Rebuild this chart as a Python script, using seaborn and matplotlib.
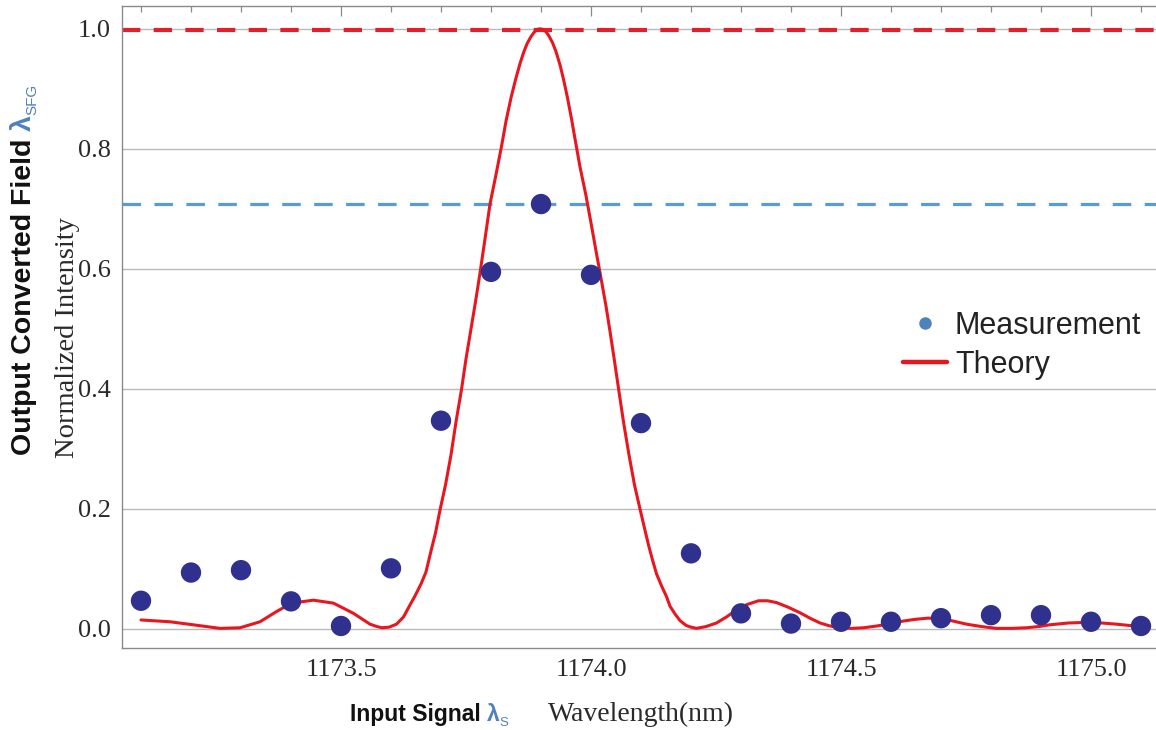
import matplotlib
matplotlib.use("Agg")
import matplotlib.pyplot as plt
from matplotlib.lines import Line2D
from matplotlib.ticker import MultipleLocator, FixedLocator
import seaborn as sns
import pandas as pd

# ---------------- data ----------------
meas_wavelength = [1173.1, 1173.2, 1173.3, 1173.4, 1173.5, 1173.6, 1173.7,
                   1173.8, 1173.9, 1174.0, 1174.1, 1174.2, 1174.3, 1174.4,
                   1174.5, 1174.6, 1174.7, 1174.8, 1174.9, 1175.0, 1175.1]
meas_intensity = [0.047, 0.094, 0.098, 0.046, 0.005, 0.101, 0.347,
                  0.595, 0.708, 0.590, 0.343, 0.126, 0.026, 0.009,
                  0.012, 0.012, 0.018, 0.023, 0.023, 0.012, 0.005]

theory_wavelength = [1173.100, 1173.158, 1173.204, 1173.258, 1173.298, 1173.338,
                     1173.371, 1173.401, 1173.445, 1173.485, 1173.525, 1173.558,
                     1173.572, 1173.582, 1173.596, 1173.611, 1173.625, 1173.638,
                     1173.648, 1173.660, 1173.670, 1173.680, 1173.689, 1173.698,
                     1173.709, 1173.720, 1173.730, 1173.741, 1173.750, 1173.760,
                     1173.769, 1173.778, 1173.788, 1173.798, 1173.810, 1173.821,
                     1173.830, 1173.840, 1173.849, 1173.858, 1173.865, 1173.872,
                     1173.880, 1173.886, 1173.892, 1173.898, 1173.904, 1173.910,
                     1173.916, 1173.923, 1173.930, 1173.938, 1173.945, 1173.953,
                     1173.961, 1173.969, 1173.978, 1173.990, 1174.001, 1174.010,
                     1174.021, 1174.030, 1174.038, 1174.046, 1174.055, 1174.065,
                     1174.076, 1174.087, 1174.098, 1174.107, 1174.115, 1174.123,
                     1174.131, 1174.141, 1174.151, 1174.158, 1174.168, 1174.178,
                     1174.190, 1174.200, 1174.211, 1174.230, 1174.251, 1174.271,
                     1174.291, 1174.313, 1174.335, 1174.353, 1174.371, 1174.395,
                     1174.418, 1174.438, 1174.458, 1174.478, 1174.498, 1174.522,
                     1174.545, 1174.572, 1174.598, 1174.623, 1174.648, 1174.673,
                     1174.698, 1174.725, 1174.751, 1174.781, 1174.811, 1174.841,
                     1174.871, 1174.895, 1174.918, 1174.955, 1174.991, 1175.021,
                     1175.051, 1175.075, 1175.098]
theory_intensity = [0.015, 0.012, 0.007, 0.001, 0.002, 0.012,
                    0.029, 0.043, 0.048, 0.043, 0.026, 0.008,
                    0.004, 0.002, 0.003, 0.008, 0.020, 0.040,
                    0.055, 0.075, 0.095, 0.130, 0.160, 0.198,
                    0.240, 0.290, 0.345, 0.399, 0.450, 0.500,
                    0.545, 0.593, 0.650, 0.708, 0.757, 0.804,
                    0.846, 0.885, 0.915, 0.942, 0.960, 0.975,
                    0.987, 0.994, 0.999, 1.000, 0.999, 0.995,
                    0.988, 0.977, 0.962, 0.940, 0.916, 0.885,
                    0.850, 0.812, 0.770, 0.722, 0.672, 0.630,
                    0.580, 0.538, 0.496, 0.452, 0.401, 0.345,
                    0.290, 0.240, 0.200, 0.168, 0.140, 0.115,
                    0.092, 0.072, 0.054, 0.038, 0.025, 0.014,
                    0.006, 0.003, 0.001, 0.004, 0.010, 0.020,
                    0.032, 0.041, 0.047, 0.047, 0.044, 0.036,
                    0.027, 0.018, 0.010, 0.005, 0.002, 0.001,
                    0.002, 0.005, 0.009, 0.013, 0.016, 0.018,
                    0.018, 0.013, 0.008, 0.004, 0.001, 0.001,
                    0.002, 0.004, 0.007, 0.010, 0.011, 0.010,
                    0.008, 0.006, 0.004]

peak_level = 0.998      # red dashed reference line
measured_max = 0.708    # blue dashed reference line

x_tick_values = [1173.5, 1174.0, 1174.5, 1175.0]
x_tick_labels = ["1173.5", "1174.0", "1174.5", "1175.0"]
y_tick_values = [0.0, 0.2, 0.4, 0.6, 0.8, 1.0]
y_tick_labels = ["0.0", "0.2", "0.4", "0.6", "0.8", "1.0"]

legend_labels = ["Measurement", "Theory"]

# ---------------- style ----------------
W, H = 1156, 730
sns.set_style("white")
plt.rcParams["font.family"] = ["Liberation Serif", "DejaVu Serif"]

fig = plt.figure(figsize=(W / 100, H / 100), dpi=100)
fig.patch.set_facecolor("white")
ax = fig.add_axes([122 / W, 1 - 648 / H, (1158 - 122) / W, (648 - 6) / H])

meas_df = pd.DataFrame({"wavelength": meas_wavelength, "intensity": meas_intensity})
theory_df = pd.DataFrame({"wavelength": theory_wavelength, "intensity": theory_intensity})

# grid
ax.set_axisbelow(True)
ax.yaxis.grid(True, color="#b9b9b9", lw=1.0)
ax.xaxis.grid(False)

# reference dashed lines
ax.axhline(peak_level, color="#e2202b", lw=3.0, dashes=(4.4, 3.2), zorder=2)
ax.axhline(measured_max, color="#5b9bd5", lw=2.3, dashes=(5.8, 4.2), zorder=2)

# theory curve
sns.lineplot(data=theory_df, x="wavelength", y="intensity", sort=False,
             color="#e8161e", lw=2.2, ax=ax, zorder=3, legend=False)
# measurement points
sns.scatterplot(data=meas_df, x="wavelength", y="intensity", s=215,
                color="#30318f", edgecolor="none", linewidth=0, ax=ax,
                zorder=4, legend=False)

ax.set_xlim(1173.062, 1175.134)
ax.set_ylim(-0.0317, 1.038)
ax.set_xlabel("")
ax.set_ylabel("")

ax.xaxis.set_major_locator(FixedLocator(x_tick_values))
ax.set_xticklabels(x_tick_labels)
ax.xaxis.set_minor_locator(MultipleLocator(0.1))
ax.yaxis.set_major_locator(FixedLocator(y_tick_values))
ax.set_yticklabels(y_tick_labels)
ax.yaxis.set_minor_locator(MultipleLocator(0.05))

ax.tick_params(which="both", direction="in", top=True, right=False,
               color="#8a8a8a", width=0.9)
ax.tick_params(which="major", length=7)
ax.tick_params(which="minor", length=4)
ax.tick_params(axis="both", labelsize=19, labelcolor="#2a2a2a")
ax.tick_params(axis="y", pad=8)
ax.tick_params(axis="x", pad=8)
for lab in ax.get_xticklabels() + ax.get_yticklabels():
    lab.set_family("Liberation Serif")

for name, sp in ax.spines.items():
    sp.set_color("#8a8a8a")
    sp.set_linewidth(1.0)
ax.spines["right"].set_visible(False)

# legend
handles = [
    Line2D([], [], marker="o", linestyle="none", color="#4f81bd",
           markersize=9, markeredgewidth=0),
    Line2D([], [], color="#e8161e", lw=3.2),
]
leg = ax.legend(handles, legend_labels, loc="upper left",
                bbox_to_anchor=(903 / W, 1 - 311 / H),
                bbox_transform=fig.transFigure, frameon=False,
                prop={"family": "Liberation Sans", "size": 22},
                handlelength=1.45, handletextpad=0.25, labelspacing=0.3,
                borderpad=0, borderaxespad=0)
for t in leg.get_texts():
    t.set_color("#222222")

# ---------------- axis labels (mixed styles) ----------------
fig.canvas.draw()
renderer = fig.canvas.get_renderer()

blue = "#4f81bd"

# vertical label, first line
base_x = 31 / W
y0 = 1 - 455 / H
t1 = fig.text(base_x, y0, "Output Converted Field ", rotation=90,
              rotation_mode="anchor", ha="left", va="baseline",
              fontsize=20.5, fontweight="bold", family="Liberation Sans",
              color="#111111")
bb = t1.get_window_extent(renderer)
t2 = fig.text(base_x, bb.y1 / H, "λ", rotation=90, rotation_mode="anchor",
              ha="left", va="baseline", fontsize=20.5, fontweight="bold",
              family=["Liberation Sans", "DejaVu Sans"], color=blue)
bb2 = t2.get_window_extent(renderer)
fig.text(base_x + 5 / W, bb2.y1 / H, "SFG", rotation=90,
         rotation_mode="anchor", ha="left", va="baseline", fontsize=11,
         family="Liberation Sans", color=blue)

# vertical label, second line
fig.text(74 / W, 1 - 458 / H, "Normalized Intensity", rotation=90,
         rotation_mode="anchor", ha="left", va="baseline", fontsize=20.5,
         family="Liberation Serif", color="#2a2a2a")

# horizontal label
base_y = 1 - 721 / H
x1 = fig.text(350 / W, base_y, "Input Signal ", ha="left", va="baseline",
              fontsize=16.5, fontweight="bold", family="Liberation Sans",
              color="#111111")
bbx = x1.get_window_extent(renderer)
x2 = fig.text(bbx.x1 / W, base_y, "λ", ha="left", va="baseline",
              fontsize=16.5, fontweight="bold",
              family=["Liberation Sans", "DejaVu Sans"], color=blue)
bbx2 = x2.get_window_extent(renderer)
fig.text(bbx2.x1 / W, base_y - 5 / H, "S", ha="left", va="baseline",
         fontsize=9.5, family="Liberation Sans", color=blue)
fig.text(548 / W, base_y, "Wavelength(nm)", ha="left", va="baseline",
         fontsize=20, family="Liberation Serif", color="#2a2a2a")

fig.savefig("out.png", dpi=100, facecolor="white")
